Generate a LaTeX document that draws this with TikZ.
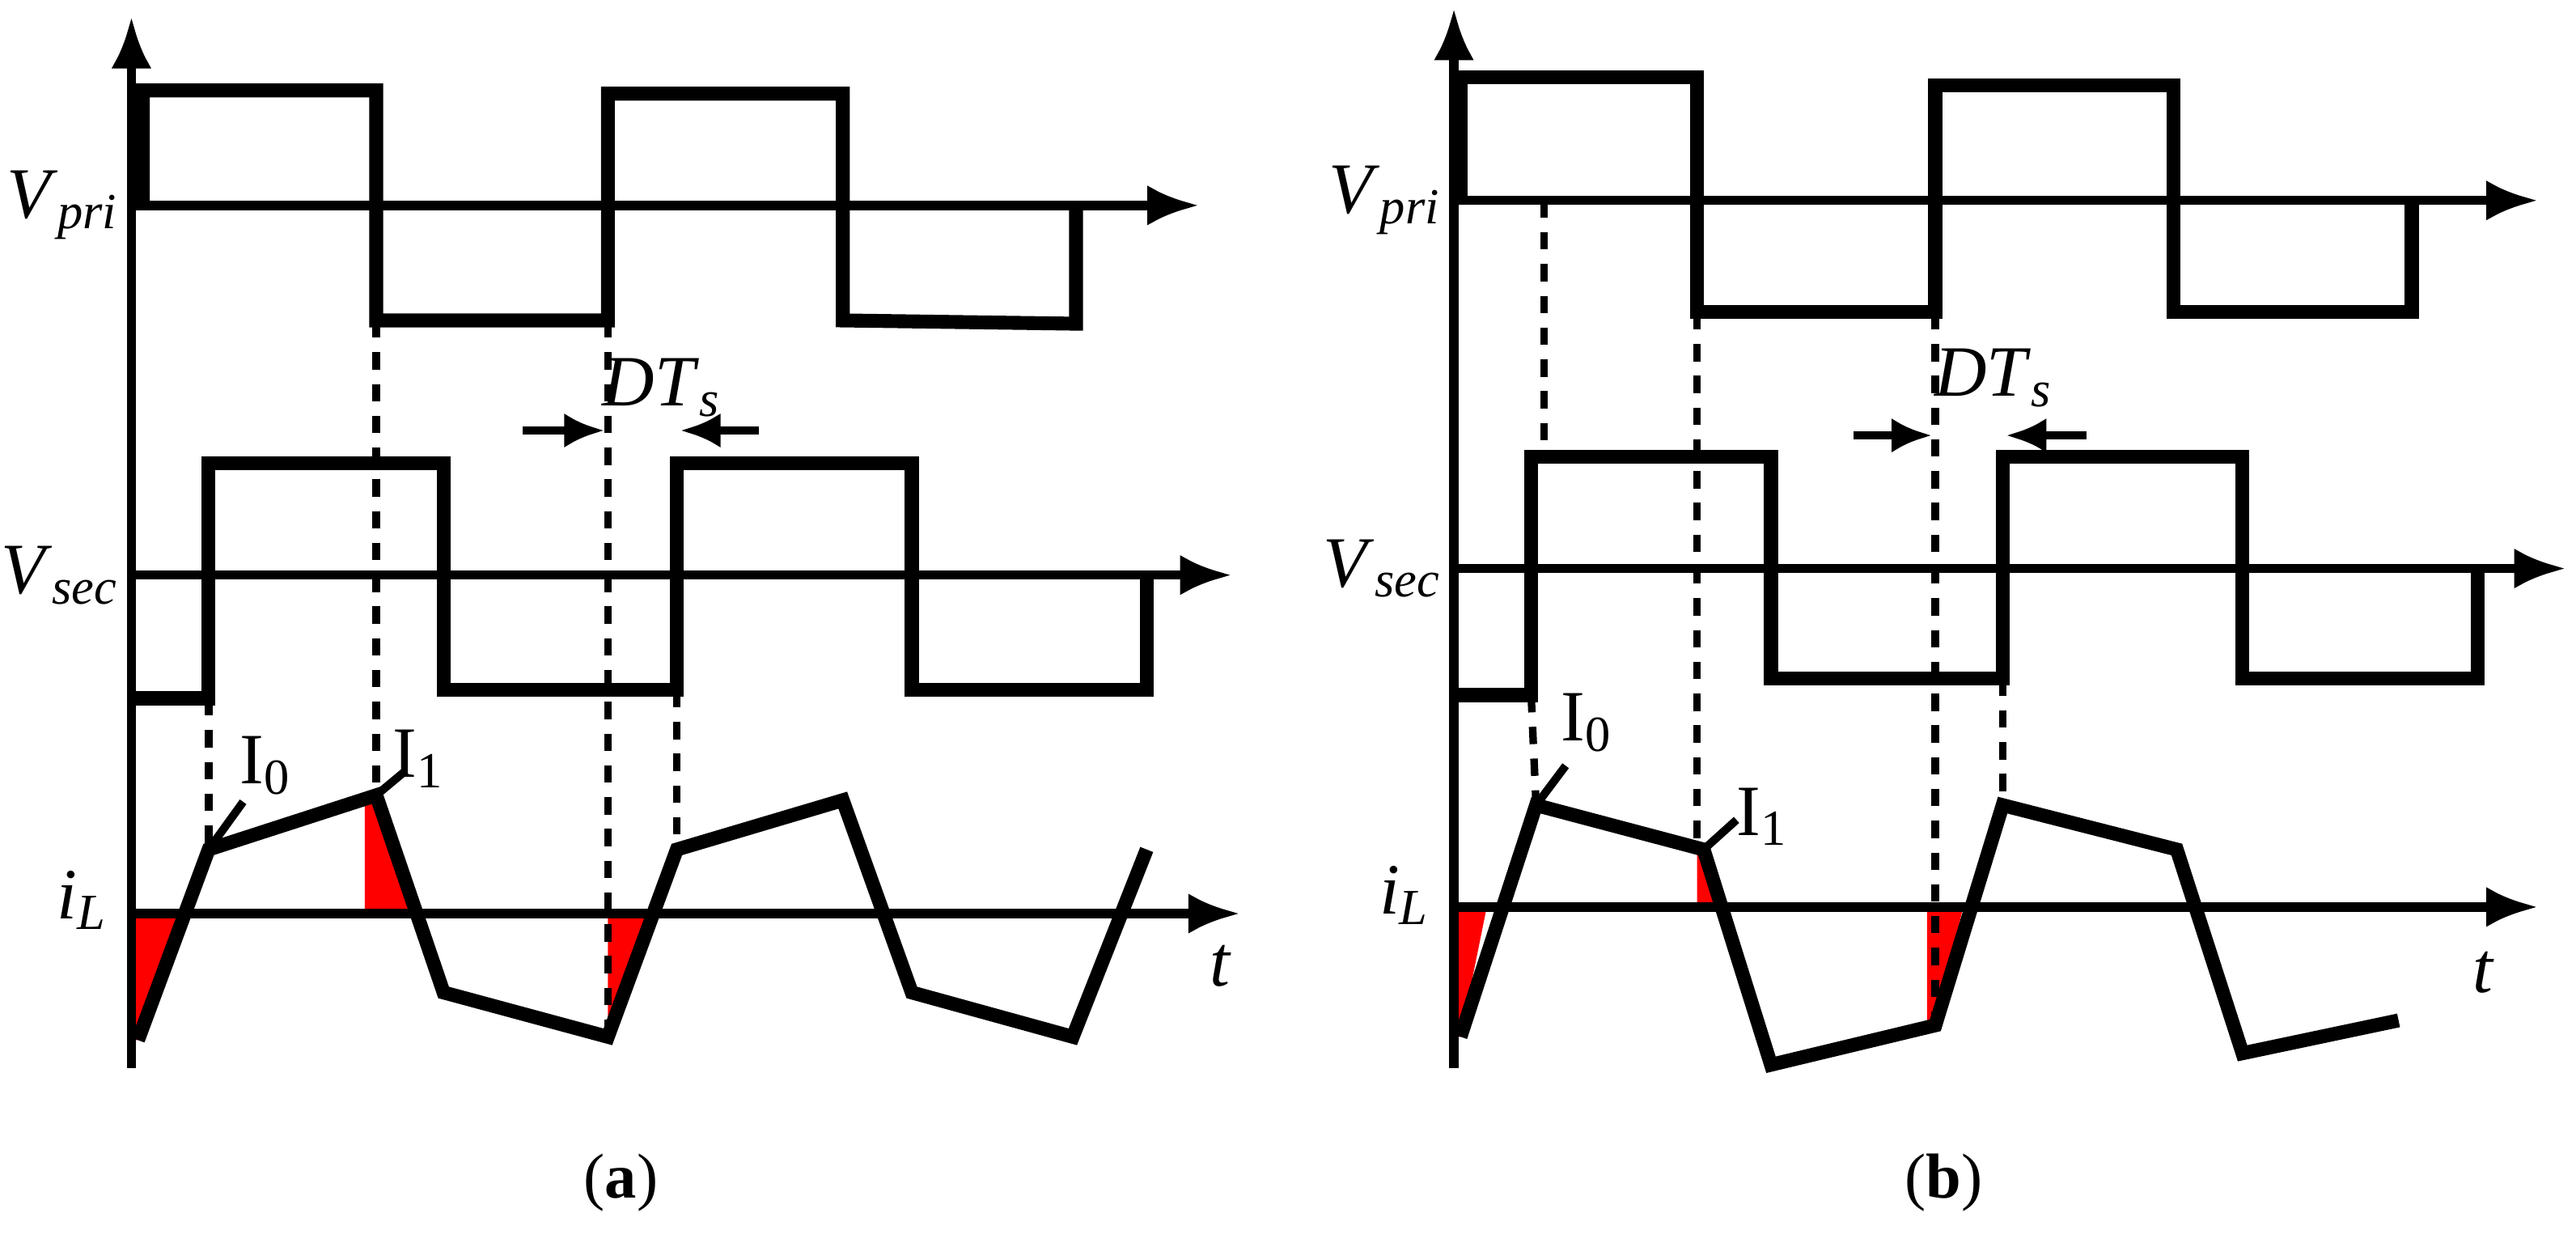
\documentclass[tikz,border=0pt]{standalone}
\usepackage{fontspec}
\setmainfont{Liberation Serif}
\usepackage{tikz}
\usetikzlibrary{arrows.meta}
\newcommand{\isub}[2]{\textit{#1}\textsubscript{\textit{#2}}}
\tikzset{
  wave/.style={line width=2.4pt, line join=miter},
  ax/.style={line width=1.6pt, -{Latex[length=9pt,width=7pt]}},
  dsh/.style={line width=1.3pt, dash pattern=on 3pt off 2.5pt},
  fillr/.style={fill=red, draw=none},
  lbl/.style={font=\fontsize{12.5}{15}\selectfont, inner sep=1pt},
  dtarr/.style={line width=1.4pt, -{Latex[length=7pt,width=6pt]}}
}
\begin{document}
\begin{tikzpicture}[x={(0.01cm,0)}, y={(0,-0.01cm)}]
\useasboundingbox (0,0) rectangle (1568,751);
% panel (a)
\fill[fillr] (80,556) -- (108,556) -- (84,633) -- (80,633) -- cycle;
\fill[fillr] (222,556) -- (222,486) -- (229,484) -- (249,556) -- cycle;
\fill[fillr] (370,631) -- (370,556) -- (400,556) -- cycle;
\draw[ax] (80,650) -- (80,10);
\draw[ax] (80,125) -- (730,125);
\draw[ax] (80,350) -- (750,350);
\draw[ax] (80,556) -- (755,556);
\draw[wave] (87,125) -- (87,55) -- (229,55) -- (229,195) -- (370,195) -- (370,57) -- (513,57) -- (513,195) -- (655,197) -- (655,125);
\draw[wave] (80,425) -- (127,425) -- (127,282) -- (270,282) -- (270,420) -- (412,420) -- (412,282) -- (555,282) -- (555,420) -- (698,420) -- (698,350);
\draw[wave] (84,633) -- (127,517) -- (229,484) -- (270,604) -- (370,631) -- (412,517) -- (513,487) -- (555,604) -- (653,631) -- (698,517);
\draw[dsh] (229,195) -- (229,484);
\draw[dsh] (370,195) -- (370,631);
\draw[dsh] (127,425) -- (127,517);
\draw[dsh] (412,420) -- (412,517);
\fill (127,517) circle (4);
\fill (229,484) circle (4);
\draw[line width=1.4pt] (127,517) -- (148,488);
\draw[line width=1.4pt] (229,484) -- (247,469);
\node[lbl] at (162,466) {I\textsubscript{0}};
\node[lbl] at (255,462) {I\textsubscript{1}};
\node[lbl] at (403,236) {\isub{DT}{s}};
\draw[dtarr] (318,262) -- (368,262);
\draw[dtarr] (462,262) -- (414,262);
\node[lbl, anchor=east] at (77,125) {\isub{V}{pri}};
\node[lbl, anchor=east] at (77,350) {\isub{V}{sec}};
\node[lbl, anchor=east] at (70,548) {\isub{i}{L}};
\node[lbl] at (743,588) {\textit{t}};
\node[font=\fontsize{11}{13}\selectfont] at (378,720) {(\textbf{a})};
% panel (b)
\fill[fillr] (885,552) -- (905,552) -- (889,631) -- (885,631) -- cycle;
\fill[fillr] (1033,552) -- (1033,518) -- (1037,517) -- (1048,552) -- cycle;
\fill[fillr] (1173,552) -- (1173,624) -- (1178,624) -- (1195,552) -- cycle;
\draw[ax] (885,650) -- (885,5);
\draw[ax] (885,122) -- (1545,122);
\draw[ax] (885,346) -- (1562,346);
\draw[ax] (885,552) -- (1545,552);
\draw[wave] (889,122) -- (889,47) -- (1033,47) -- (1033,190) -- (1178,190) -- (1178,52) -- (1323,52) -- (1323,190) -- (1468,190) -- (1468,122);
\draw[wave] (885,423) -- (932,423) -- (932,278) -- (1078,278) -- (1078,413) -- (1219,413) -- (1219,278) -- (1365,278) -- (1365,413) -- (1508,413) -- (1508,346);
\draw[wave] (889,631) -- (935,490) -- (1037,517) -- (1078,648) -- (1178,624) -- (1219,490) -- (1325,517) -- (1365,641) -- (1460,621);
\draw[dsh] (940,122) -- (940,278);
\draw[dsh] (932,423) -- (935,490);
\draw[dsh] (1033,190) -- (1033,517);
\draw[dsh] (1178,190) -- (1178,624);
\draw[dsh] (1219,413) -- (1219,490);
\fill (935,490) circle (4);
\fill (1037,517) circle (4);
\draw[line width=1.4pt] (935,490) -- (953,466);
\draw[line width=1.4pt] (1037,517) -- (1057,499);
\node[lbl] at (966,440) {I\textsubscript{0}};
\node[lbl] at (1073,497) {I\textsubscript{1}};
\node[lbl] at (1214,230) {\isub{DT}{s}};
\draw[dtarr] (1128,265) -- (1176,265);
\draw[dtarr] (1270,265) -- (1221,265);
\node[lbl, anchor=east] at (882,122) {\isub{V}{pri}};
\node[lbl, anchor=east] at (882,346) {\isub{V}{sec}};
\node[lbl, anchor=east] at (875,545) {\isub{i}{L}};
\node[lbl] at (1512,592) {\textit{t}};
\node[font=\fontsize{11}{13}\selectfont] at (1183,720) {(\textbf{b})};
\end{tikzpicture}
\end{document}
